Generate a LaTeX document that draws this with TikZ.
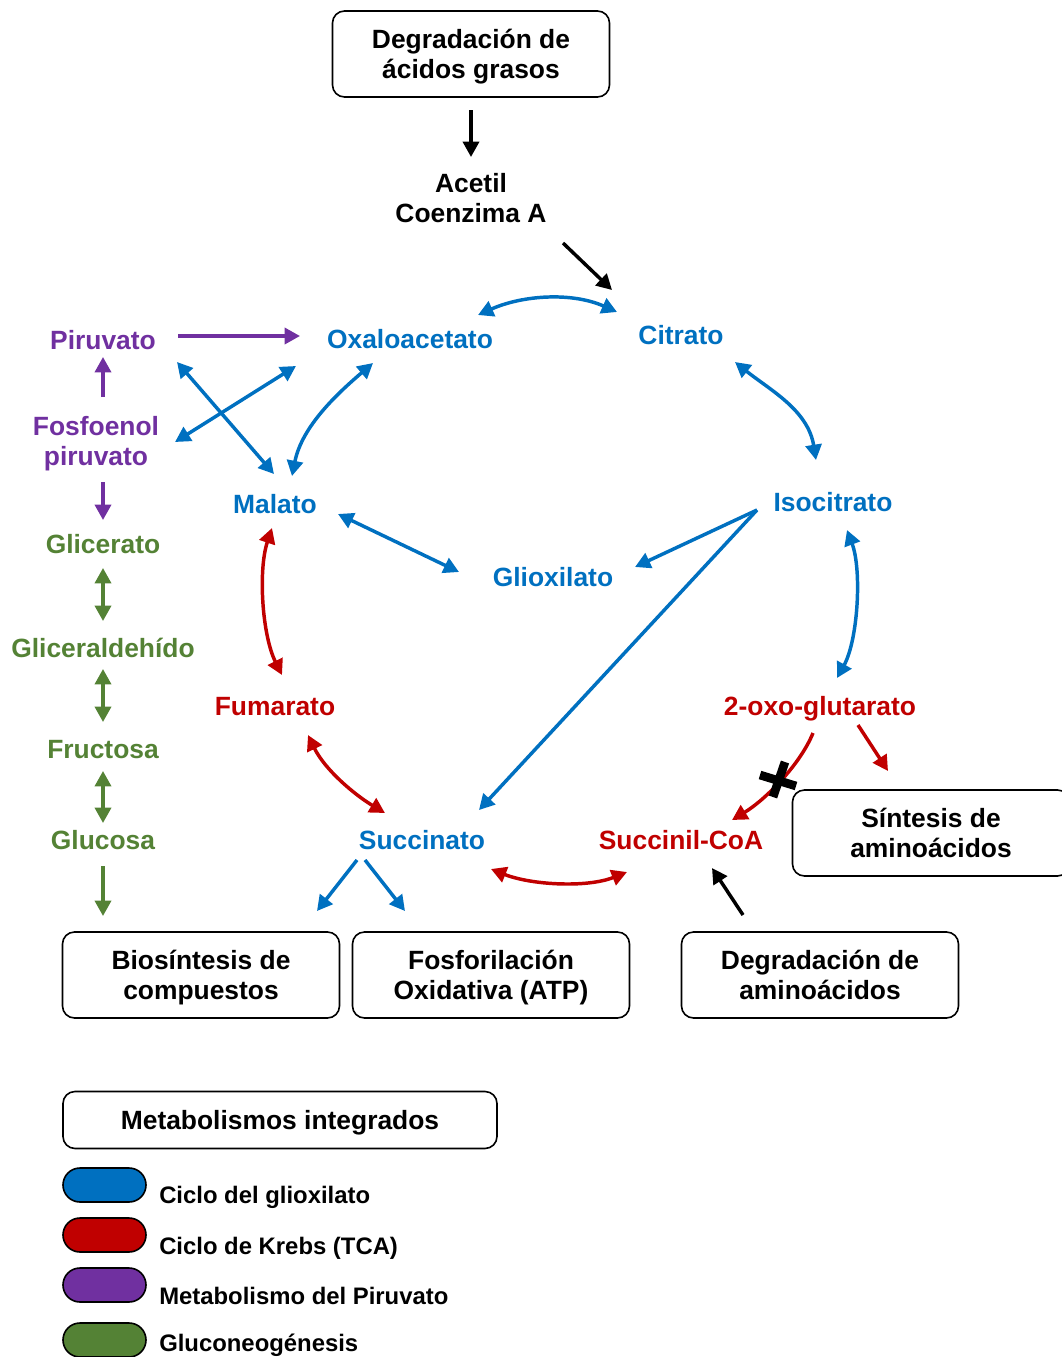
\documentclass[tikz,border=0pt]{standalone}
\usepackage{fontspec}
\setmainfont{Liberation Sans}
\usetikzlibrary{arrows.meta}
\definecolor{MetInk}{HTML}{000000}
\definecolor{MetBlue}{HTML}{0070C0}
\definecolor{MetRed}{HTML}{C00000}
\definecolor{MetPurple}{HTML}{7030A0}
\definecolor{MetGreen}{HTML}{548235}
\tikzset{
  every node/.style={font=\fontsize{19.8}{22.5}\selectfont\bfseries, text=MetInk, text depth=0pt},
  metab/.style={align=center, inner sep=0pt},
  process/.style={draw=MetInk, line width=1.2pt, rounded corners=9pt, minimum width=207.75pt, minimum height=64.5pt, align=center},
  pill/.style={draw=MetInk, line width=1.2pt, rounded corners=12.75pt, minimum width=62.25pt, minimum height=25.5pt},
  legtext/.style={anchor=west, inner sep=0pt, font=\fontsize{17.9}{21}\selectfont\bfseries},
  oneway/.style={-{Triangle[length=11.5pt,width=12pt]}, line width=2.6pt},
  twoway/.style={{Triangle[length=11.5pt,width=12pt]}-{Triangle[length=11.5pt,width=12pt]}, line width=2.6pt},
}
\begin{document}
\begin{tikzpicture}[x=0.75pt,y=-0.75pt]
  \useasboundingbox (0,0) rectangle (1062,1357);
  % Entry and exit processes
  \node[process] (fag) at (471,54) {Degradación de\\ácidos grasos};
  \node[process] (sin) at (931,833) {Síntesis de\\aminoácidos};
  \node[process] (bio) at (201,975) {Biosíntesis de\\compuestos};
  \node[process] (fox) at (491,975) {Fosforilación\\Oxidativa (ATP)};
  \node[process] (dam) at (820,975) {Degradación de\\aminoácidos};
  % Metabolites
  \node[metab] (aca) at (471,198) {Acetil\\Coenzima A};
  \node[metab, text=MetBlue] (oxa) at (410,339) {Oxaloacetato};
  \node[metab, text=MetBlue] (cit) at (681,335) {Citrato};
  \node[metab, text=MetBlue] (mal) at (275,504) {Malato};
  \node[metab, text=MetBlue] (iso) at (833,502) {Isocitrato};
  \node[metab, text=MetBlue] (glx) at (553,577) {Glioxilato};
  \node[metab, text=MetRed] (fum) at (275,706) {Fumarato};
  \node[metab, text=MetRed] (oxg) at (820,706) {2-oxo-glutarato};
  \node[metab, text=MetBlue] (suc) at (422,840) {Succinato};
  \node[metab, text=MetRed] (sca) at (681,840) {Succinil-CoA};
  % Pyruvate and gluconeogenesis column
  \node[metab, text=MetPurple] (pir) at (103,340) {Piruvato};
  \node[metab, text=MetPurple] (pep) at (96,441) {Fosfoenol\\piruvato};
  \node[metab, text=MetGreen] (gli) at (103,544) {Glicerato};
  \node[metab, text=MetGreen] (gla) at (103,648) {Gliceraldehído};
  \node[metab, text=MetGreen] (fru) at (103,749) {Fructosa};
  \node[metab, text=MetGreen] (glu) at (103,840) {Glucosa};
  % Black feeds
  \draw[oneway, MetInk] ([shift={(0,56)}]fag.center) -- ([shift={(0,-41)}]aca.center);
  \draw[oneway, MetInk] ([shift={(92,45)}]aca.center) -- ([shift={(-69,-45)}]cit.center);
  \draw[oneway, MetInk] ([shift={(-77,-60)}]dam.center) -- ([shift={(31,28)}]sca.center);
  % Glyoxylate cycle
  \draw[twoway, MetBlue] ([shift={(68,-24)}]oxa.center) .. controls +(45,-20) and +(-45,-20) .. ([shift={(-64,-23)}]cit.center);
  \draw[twoway, MetBlue] ([shift={(54,27)}]cit.center) .. controls +(35,28) and +(-8,-50) .. ([shift={(-17,-42)}]iso.center);
  \draw[twoway, MetBlue] ([shift={(14,28)}]iso.center) .. controls +(15,40) and +(21,-38) .. ([shift={(17,-28)}]oxg.center);
  \draw[twoway, MetBlue] ([shift={(17,-28)}]mal.center) .. controls +(10,-50) and +(-35,30) .. ([shift={(-37,24)}]oxa.center);
  \draw[twoway, MetBlue] ([shift={(63,10)}]mal.center) -- ([shift={(-94,-5)}]glx.center);
  \draw[oneway, MetBlue] ([shift={(-76,8)}]iso.center) -- ([shift={(82,-10)}]glx.center);
  \draw[oneway, MetBlue] ([shift={(-76,8)}]iso.center) -- ([shift={(57,-30)}]suc.center);
  \draw[twoway, MetBlue] ([shift={(74,22)}]pir.center) -- ([shift={(-1,-30)}]mal.center);
  \draw[twoway, MetBlue] ([shift={(79,1)}]pep.center) -- ([shift={(-114,27)}]oxa.center);
  \draw[oneway, MetBlue] ([shift={(-65,20)}]suc.center) -- ([shift={(116,-64)}]bio.center);
  \draw[oneway, MetBlue] ([shift={(-57,20)}]suc.center) -- ([shift={(-86,-64)}]fox.center);
  % Krebs cycle
  \draw[twoway, MetRed] ([shift={(-3,24)}]mal.center) .. controls +(-14,42) and +(-20,-40) .. ([shift={(7,-31)}]fum.center);
  \draw[twoway, MetRed] ([shift={(33,29)}]fum.center) .. controls +(17,35) and +(-30,-18) .. ([shift={(-37,-27)}]suc.center);
  \draw[twoway, MetRed] ([shift={(69,29)}]suc.center) .. controls +(40,16) and +(-40,16) .. ([shift={(-54,32)}]sca.center);
  \draw[oneway, MetRed] ([shift={(-7,27)}]oxg.center) .. controls +(-13,32) and +(33,-20) .. ([shift={(51,-20)}]sca.center);
  \draw[oneway, MetRed] ([shift={(38,19)}]oxg.center) -- ([shift={(-43,-62)}]sin.center);
  % Blocked step
  \draw[MetInk, line width=6.5pt] (760,775) -- (796,786);
  \draw[MetInk, line width=6.5pt] (785,762) -- (773,797);
  % Pyruvate metabolism
  \draw[oneway, MetPurple] ([shift={(75,-4)}]pir.center) -- ([shift={(-110,-3)}]oxa.center);
  \draw[oneway, MetPurple] ([shift={(7,-44)}]pep.center) -- ([shift={(0,17)}]pir.center);
  \draw[oneway, MetPurple] ([shift={(7,41)}]pep.center) -- ([shift={(0,-24)}]gli.center);
  % Gluconeogenesis
  \draw[twoway, MetGreen] ([shift={(0,24)}]gli.center) -- ([shift={(0,-27)}]gla.center);
  \draw[twoway, MetGreen] ([shift={(0,21)}]gla.center) -- ([shift={(0,-27)}]fru.center);
  \draw[twoway, MetGreen] ([shift={(0,22)}]fru.center) -- ([shift={(0,-17)}]glu.center);
  \draw[oneway, MetGreen] ([shift={(0,26)}]glu.center) -- ([shift={(-98,-59)}]bio.center);
  % Legend
  \node[process, minimum width=325.5pt, minimum height=42.75pt] (leg) at (280,1120) {Metabolismos integrados};
  \node[pill, fill=MetBlue] (kblue) at (104.5,1185) {};
  \node[pill, fill=MetRed] (kred) at (104.5,1235) {};
  \node[pill, fill=MetPurple] (kpurple) at (104.5,1285) {};
  \node[pill, fill=MetGreen] (kgreen) at (104.5,1340) {};
  \node[legtext] (tblue) at (159,1195) {Ciclo del glioxilato};
  \node[legtext] (tred) at (159,1246) {Ciclo de Krebs (TCA)};
  \node[legtext] (tpurple) at (159,1296) {Metabolismo del Piruvato};
  \node[legtext] (tgreen) at (159,1343) {Gluconeogénesis};
\end{tikzpicture}
\end{document}
